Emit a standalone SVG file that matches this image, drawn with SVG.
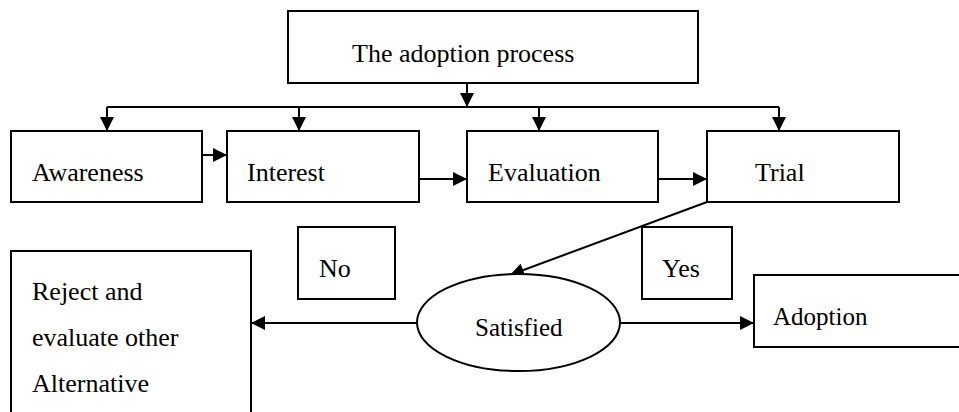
<svg xmlns="http://www.w3.org/2000/svg" width="959" height="412" viewBox="0 0 959 412">
<style>
.box{fill:#fff;stroke:#000;stroke-width:2}
.t{font-family:'Liberation Serif','Times New Roman','DejaVu Serif',serif;font-size:26px;fill:#000}
.s{font-size:25px}
.c{fill:none;stroke:#000;stroke-width:2}
</style>
<defs>
<marker id="ah" viewBox="0 0 14 14" refX="14" refY="7" markerWidth="14" markerHeight="14" markerUnits="userSpaceOnUse" orient="auto">
<path d="M0,0 L14,7 L0,14 Z" fill="#000"/>
</marker>
</defs>
<rect width="959" height="412" fill="#fff"/>
<g id="connectors">
<path class="c" d="M467,83 V107" marker-end="url(#ah)"/>
<path class="c" d="M107,107 H779"/>
<path class="c" d="M107,107 V131" marker-end="url(#ah)"/>
<path class="c" d="M299,107 V131" marker-end="url(#ah)"/>
<path class="c" d="M539,107 V131" marker-end="url(#ah)"/>
<path class="c" d="M779,107 V131" marker-end="url(#ah)"/>
<path class="c" d="M202,155 H227" marker-end="url(#ah)"/>
<path class="c" d="M419,179 H467" marker-end="url(#ah)"/>
<path class="c" d="M658,179 H707" marker-end="url(#ah)"/>
<path class="c" d="M707,202 L510,275" marker-end="url(#ah)"/>
<path class="c" d="M418,323 H251" marker-end="url(#ah)"/>
<path class="c" d="M620,323 H754" marker-end="url(#ah)"/>
</g>
<g id="title">
<rect class="box" x="288" y="11" width="410" height="72"/>
<text class="t" font-family="Liberation Serif, serif" x="352" y="62">The adoption process</text>
</g>
<g id="awareness">
<rect class="box" x="11" y="131" width="191" height="71"/>
<text class="t" x="32" y="181">Awareness</text>
</g>
<g id="interest">
<rect class="box" x="227" y="131" width="192" height="71"/>
<text class="t" x="247" y="181">Interest</text>
</g>
<g id="evaluation">
<rect class="box" x="467" y="131" width="191" height="71"/>
<text class="t" x="488" y="181">Evaluation</text>
</g>
<g id="trial">
<rect class="box" x="707" y="131" width="192" height="71"/>
<text class="t" x="755" y="181">Trial</text>
</g>
<g id="no">
<rect class="box" x="298" y="227" width="97" height="72"/>
<text class="t" x="319" y="277">No</text>
</g>
<g id="yes">
<rect class="box" x="642" y="227" width="90" height="72"/>
<text class="t" x="662" y="277">Yes</text>
</g>
<g id="reject">
<rect class="box" x="11" y="251" width="240" height="180"/>
<text class="t" x="32" y="300">Reject and</text>
<text class="t" x="32" y="346">evaluate other</text>
<text class="t" x="32" y="392">Alternative</text>
</g>
<g id="satisfied">
<ellipse class="box" cx="518.5" cy="322.5" rx="101.5" ry="48.5"/>
<text class="t s" x="475" y="336">Satisfied</text>
</g>
<g id="adoption">
<rect class="box" x="754" y="275" width="220" height="72"/>
<text class="t s" x="773" y="325">Adoption</text>
</g>
</svg>
